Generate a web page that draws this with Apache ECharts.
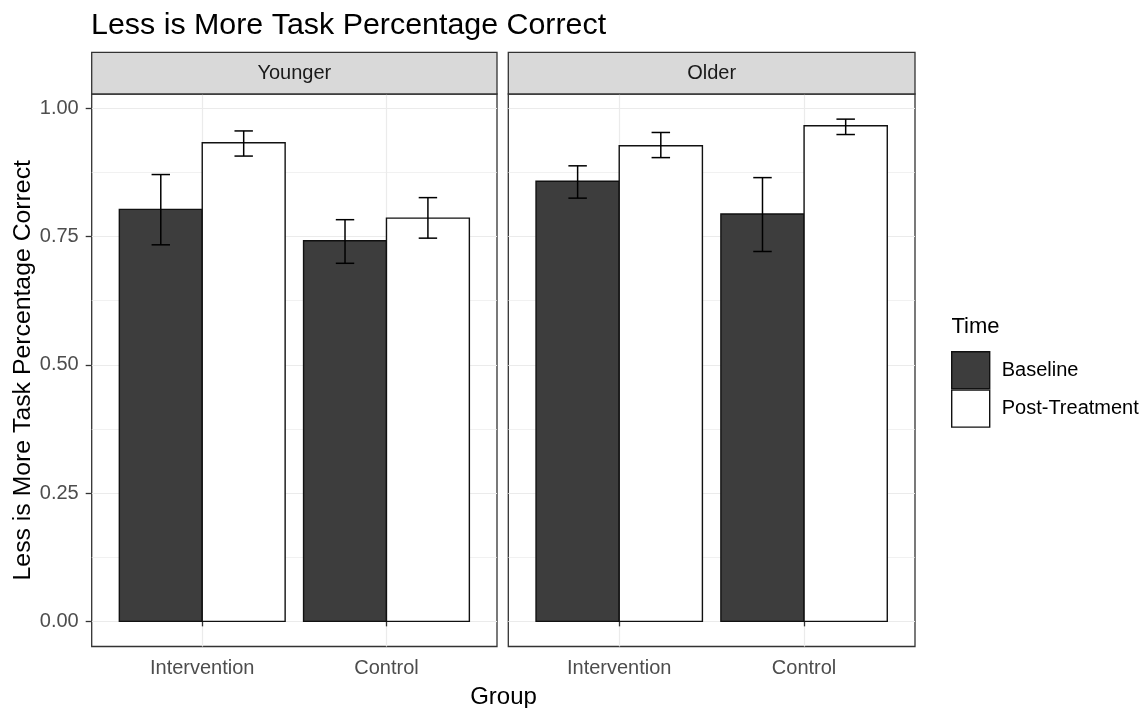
<!DOCTYPE html>
<html>
<head>
<meta charset="utf-8">
<script src="https://cdn.jsdelivr.net/npm/echarts@6/dist/echarts.min.js"></script>
<style>
html,body{margin:0;padding:0;background:#fff;}
#chart{width:1145px;height:708px;}
</style>
</head>
<body>
<div id="chart"></div>
<script>
// ---- data ----
const categories = ['Intervention', 'Control'];
const facets = ['Younger', 'Older'];
const timeLevels = ['Baseline', 'Post-Treatment'];

const youngerBaseline   = [0.803, 0.742];
const youngerBaselineLo = [0.734, 0.698];
const youngerBaselineHi = [0.871, 0.783];
const youngerPost       = [0.933, 0.786];
const youngerPostLo     = [0.907, 0.747];
const youngerPostHi     = [0.956, 0.826];

const olderBaseline     = [0.858, 0.794];
const olderBaselineLo   = [0.825, 0.721];
const olderBaselineHi   = [0.888, 0.865];
const olderPost         = [0.927, 0.966];
const olderPostLo       = [0.904, 0.949];
const olderPostHi       = [0.953, 0.979];

const yTicks = [0, 0.25, 0.5, 0.75, 1];
const yTickLabels = ['0.00', '0.25', '0.50', '0.75', '1.00'];
const yMinorTicks = [0.125, 0.375, 0.625, 0.875];
const xTicks = [1, 2];

// ---- style ----
const FONT = 'Liberation Sans, Arial, sans-serif';
const BASE_FILL = '#3d3d3d';
const POST_FILL = '#ffffff';
const GRID_COL = '#ebebeb';
const DARK = '#333333';
const Y_MIN = -0.049, Y_MAX = 1.028;
const X_MIN = 0.4, X_MAX = 2.6;

const panels = [
  {left: 91.7, width: 405.3},
  {left: 508.3, width: 406.7}
];
const PANEL_TOP = 94, PANEL_H = 552.5;
const STRIP_TOP = 52.3;

function labelFor(v) {
  let best = 0;
  for (let i = 0; i < yTicks.length; i++) {
    if (Math.abs(yTicks[i] - v) < Math.abs(yTicks[best] - v)) best = i;
  }
  return yTickLabels[best];
}

function barSeries(name, values, g, side, fill) {
  return {
    type: 'custom', name: name, xAxisIndex: g, yAxisIndex: g * 2,
    data: values.map((v, i) => [xTicks[i], v]),
    encode: {x: 0, y: 1},
    z: 2,
    renderItem: function (params, api) {
      const x = api.value(0), v = api.value(1);
      const xa = side < 0 ? x - 0.45 : x;
      const xb = side < 0 ? x : x + 0.45;
      const p0 = api.coord([xa, v]);
      const p1 = api.coord([xb, 0]);
      return {
        type: 'rect',
        shape: {x: p0[0], y: p0[1], width: p1[0] - p0[0], height: p1[1] - p0[1]},
        style: {fill: fill, stroke: '#111', lineWidth: 1.4}
      };
    }
  };
}

function errSeries(name, lo, hi, g, side) {
  return {
    type: 'custom', name: name, xAxisIndex: g, yAxisIndex: g * 2,
    data: lo.map((l, i) => [xTicks[i], l, hi[i]]),
    encode: {x: 0, y: [1, 2]},
    z: 3,
    renderItem: function (params, api) {
      const x = api.value(0) + side * 0.225;
      const l = api.value(1), h = api.value(2);
      const pl = api.coord([x, l]), ph = api.coord([x, h]);
      const tl = api.coord([x - 0.05, h]), tr = api.coord([x + 0.05, h]);
      const bl = api.coord([x - 0.05, l]), br = api.coord([x + 0.05, l]);
      const st = {stroke: '#000', lineWidth: 1.5};
      return {
        type: 'group',
        children: [
          {type: 'line', shape: {x1: pl[0], y1: pl[1], x2: ph[0], y2: ph[1]}, style: st},
          {type: 'line', shape: {x1: tl[0], y1: tl[1], x2: tr[0], y2: tr[1]}, style: st},
          {type: 'line', shape: {x1: bl[0], y1: bl[1], x2: br[0], y2: br[1]}, style: st}
        ]
      };
    }
  };
}

const grids = panels.map(p => ({
  left: p.left, top: PANEL_TOP, width: p.width, height: PANEL_H,
  show: true, backgroundColor: '#fff', borderColor: DARK, borderWidth: 1.3,
  containLabel: false
}));

const xAxes = panels.map((p, g) => ({
  type: 'value', gridIndex: g, min: X_MIN, max: X_MAX,
  axisLine: {show: false},
  axisTick: {show: true, length: 5, customValues: xTicks, lineStyle: {color: DARK, width: 1.3}},
  axisLabel: {show: true, customValues: xTicks, margin: 12,
    formatter: v => categories[Math.round(v) - 1],
    fontFamily: FONT, fontSize: 20, color: '#4d4d4d'},
  splitLine: {show: true, lineStyle: {color: GRID_COL, width: 1.2}}
}));

const yAxes = [];
panels.forEach((p, g) => {
  yAxes.push({
    type: 'value', gridIndex: g, min: Y_MIN, max: Y_MAX,
    axisLine: {show: false},
    axisTick: {show: g === 0, length: 6, customValues: yTicks, lineStyle: {color: DARK, width: 1.3}},
    axisLabel: {show: g === 0, customValues: yTicks, margin: 13,
      formatter: labelFor, fontFamily: FONT, fontSize: 20, color: '#4d4d4d'},
    splitLine: {show: true, lineStyle: {color: GRID_COL, width: 1.2}},
    name: g === 0 ? 'Less is More Task Percentage Correct' : '',
    nameLocation: 'middle', nameGap: 56,
    nameTextStyle: {fontFamily: FONT, fontSize: 24.8, color: '#000'}
  });
  yAxes.push({
    type: 'value', gridIndex: g, min: Y_MIN, max: Y_MAX,
    axisLine: {show: false},
    axisTick: {show: false, customValues: yMinorTicks},
    axisLabel: {show: false, customValues: yMinorTicks},
    splitLine: {show: true, lineStyle: {color: GRID_COL, width: 0.7}}
  });
});

const series = [
  barSeries('Baseline', youngerBaseline, 0, -1, BASE_FILL),
  barSeries('Post-Treatment', youngerPost, 0, 1, POST_FILL),
  errSeries('err-yb', youngerBaselineLo, youngerBaselineHi, 0, -1),
  errSeries('err-yp', youngerPostLo, youngerPostHi, 0, 1),
  barSeries('Baseline', olderBaseline, 1, -1, BASE_FILL),
  barSeries('Post-Treatment', olderPost, 1, 1, POST_FILL),
  errSeries('err-ob', olderBaselineLo, olderBaselineHi, 1, -1),
  errSeries('err-op', olderPostLo, olderPostHi, 1, 1)
];

const graphics = [];
panels.forEach((p, g) => {
  graphics.push({
    type: 'rect', z: 10,
    shape: {x: p.left, y: STRIP_TOP, width: p.width, height: PANEL_TOP - STRIP_TOP},
    style: {fill: '#d9d9d9', stroke: DARK, lineWidth: 1.3}
  });
  graphics.push({
    type: 'text', z: 11,
    x: p.left + p.width / 2, y: (STRIP_TOP + PANEL_TOP) / 2,
    style: {text: facets[g], font: '20px ' + FONT, fill: '#1a1a1a', align: 'center', verticalAlign: 'middle'}
  });
});
graphics.push({
  type: 'text', z: 11, x: 503.5, y: 685,
  style: {text: 'Group', font: '24px ' + FONT, fill: '#000', align: 'center', verticalAlign: 'top'}
});
graphics.push({
  type: 'text', z: 11, x: 951.5, y: 316,
  style: {text: 'Time', font: '22px ' + FONT, fill: '#000', align: 'left', verticalAlign: 'top'}
});

const option = {
  animation: false,
  backgroundColor: '#fff',
  title: {
    text: 'Less is More Task Percentage Correct',
    left: 91, top: 11, padding: 0,
    textStyle: {fontFamily: FONT, fontSize: 30.4, fontWeight: 'normal', color: '#000'}
  },
  legend: {
    orient: 'vertical', left: 951, top: 351, padding: 0,
    itemWidth: 38, itemHeight: 37, itemGap: 0,
    selectedMode: false,
    textStyle: {fontFamily: FONT, fontSize: 20, color: '#000', padding: [0, 0, 0, 7]},
    data: [
      {name: timeLevels[0], icon: 'rect', itemStyle: {color: BASE_FILL, borderColor: '#111', borderWidth: 1.4}},
      {name: timeLevels[1], icon: 'rect', itemStyle: {color: POST_FILL, borderColor: '#111', borderWidth: 1.4}}
    ]
  },
  grid: grids,
  xAxis: xAxes,
  yAxis: yAxes,
  series: series,
  graphic: graphics
};

const chart = echarts.init(document.getElementById('chart'));
chart.setOption(option);
</script>
</body>
</html>
